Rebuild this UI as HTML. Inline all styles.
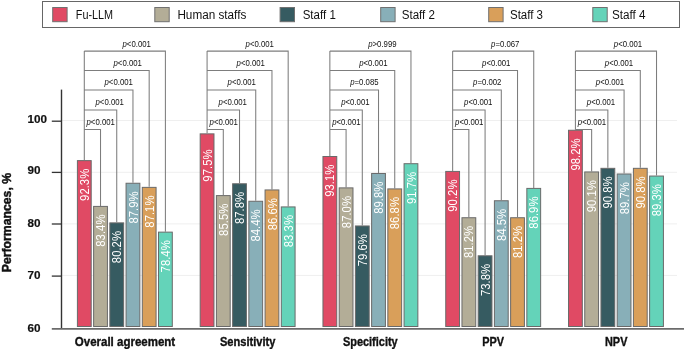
<!DOCTYPE html><html><head><meta charset="utf-8"><style>html,body{margin:0;padding:0;background:#fff;}svg{display:block;will-change:transform;}text{font-family:"Liberation Sans",sans-serif;}</style></head><body>
<svg width="685" height="349" viewBox="0 0 685 349">
<rect width="685" height="349" fill="#fff"/>
<rect x="42.5" y="1.5" width="637" height="26" fill="#fff" stroke="#666" stroke-width="1"/>
<rect x="52.7" y="7.5" width="14.4" height="14.2" fill="#E04A64" stroke="#707070" stroke-width="1"/>
<text x="75.8" y="18.9" font-size="12.3" fill="#111" textLength="37.3" lengthAdjust="spacingAndGlyphs">Fu-LLM</text>
<rect x="154.8" y="7.5" width="14.4" height="14.2" fill="#B3AD97" stroke="#707070" stroke-width="1"/>
<text x="177.4" y="18.9" font-size="12.3" fill="#111" textLength="68.9" lengthAdjust="spacingAndGlyphs">Human staffs</text>
<rect x="280.1" y="7.5" width="14.4" height="14.2" fill="#365B61" stroke="#707070" stroke-width="1"/>
<text x="302.7" y="18.9" font-size="12.3" fill="#111" textLength="33.1" lengthAdjust="spacingAndGlyphs">Staff 1</text>
<rect x="380.7" y="7.5" width="14.4" height="14.2" fill="#88AFB8" stroke="#707070" stroke-width="1"/>
<text x="401.7" y="18.9" font-size="12.3" fill="#111" textLength="33.3" lengthAdjust="spacingAndGlyphs">Staff 2</text>
<rect x="488.7" y="7.5" width="14.4" height="14.2" fill="#D99F5A" stroke="#707070" stroke-width="1"/>
<text x="510" y="18.9" font-size="12.3" fill="#111" textLength="33" lengthAdjust="spacingAndGlyphs">Staff 3</text>
<rect x="592.8" y="7.5" width="14.4" height="14.2" fill="#64D3B9" stroke="#707070" stroke-width="1"/>
<text x="612" y="18.9" font-size="12.3" fill="#111" textLength="33.6" lengthAdjust="spacingAndGlyphs">Staff 4</text>
<line x1="62" x2="677" y1="120.5" y2="120.5" stroke="#efefef" stroke-width="1"/>
<line x1="62" x2="677" y1="172.3" y2="172.3" stroke="#efefef" stroke-width="1"/>
<line x1="62" x2="677" y1="223.9" y2="223.9" stroke="#efefef" stroke-width="1"/>
<line x1="62" x2="677" y1="275.4" y2="275.4" stroke="#efefef" stroke-width="1"/>
<rect x="77.4" y="160.62" width="13.8" height="165.88" fill="#E04A64" stroke="#6a6a6a" stroke-width="1"/>
<rect x="93.62" y="206.41" width="13.8" height="120.09" fill="#B3AD97" stroke="#6a6a6a" stroke-width="1"/>
<rect x="109.84" y="222.87" width="13.8" height="103.63" fill="#365B61" stroke="#6a6a6a" stroke-width="1"/>
<rect x="126.06" y="183.25" width="13.8" height="143.25" fill="#88AFB8" stroke="#6a6a6a" stroke-width="1"/>
<rect x="142.28" y="187.37" width="13.8" height="139.13" fill="#D99F5A" stroke="#6a6a6a" stroke-width="1"/>
<rect x="158.5" y="232.13" width="13.8" height="94.37" fill="#64D3B9" stroke="#6a6a6a" stroke-width="1"/>
<rect x="200.18" y="133.86" width="13.8" height="192.64" fill="#E04A64" stroke="#6a6a6a" stroke-width="1"/>
<rect x="216.4" y="195.6" width="13.8" height="130.9" fill="#B3AD97" stroke="#6a6a6a" stroke-width="1"/>
<rect x="232.62" y="183.77" width="13.8" height="142.73" fill="#365B61" stroke="#6a6a6a" stroke-width="1"/>
<rect x="248.84" y="201.26" width="13.8" height="125.24" fill="#88AFB8" stroke="#6a6a6a" stroke-width="1"/>
<rect x="265.06" y="189.94" width="13.8" height="136.56" fill="#D99F5A" stroke="#6a6a6a" stroke-width="1"/>
<rect x="281.28" y="206.92" width="13.8" height="119.58" fill="#64D3B9" stroke="#6a6a6a" stroke-width="1"/>
<rect x="322.96" y="156.5" width="13.8" height="170" fill="#E04A64" stroke="#6a6a6a" stroke-width="1"/>
<rect x="339.18" y="187.88" width="13.8" height="138.62" fill="#B3AD97" stroke="#6a6a6a" stroke-width="1"/>
<rect x="355.4" y="225.96" width="13.8" height="100.54" fill="#365B61" stroke="#6a6a6a" stroke-width="1"/>
<rect x="371.62" y="173.48" width="13.8" height="153.02" fill="#88AFB8" stroke="#6a6a6a" stroke-width="1"/>
<rect x="387.84" y="188.91" width="13.8" height="137.59" fill="#D99F5A" stroke="#6a6a6a" stroke-width="1"/>
<rect x="404.06" y="163.7" width="13.8" height="162.8" fill="#64D3B9" stroke="#6a6a6a" stroke-width="1"/>
<rect x="445.74" y="171.42" width="13.8" height="155.08" fill="#E04A64" stroke="#6a6a6a" stroke-width="1"/>
<rect x="461.96" y="217.73" width="13.8" height="108.77" fill="#B3AD97" stroke="#6a6a6a" stroke-width="1"/>
<rect x="478.18" y="255.8" width="13.8" height="70.7" fill="#365B61" stroke="#6a6a6a" stroke-width="1"/>
<rect x="494.4" y="200.75" width="13.8" height="125.75" fill="#88AFB8" stroke="#6a6a6a" stroke-width="1"/>
<rect x="510.62" y="217.73" width="13.8" height="108.77" fill="#D99F5A" stroke="#6a6a6a" stroke-width="1"/>
<rect x="526.84" y="188.4" width="13.8" height="138.1" fill="#64D3B9" stroke="#6a6a6a" stroke-width="1"/>
<rect x="568.52" y="130.26" width="13.8" height="196.24" fill="#E04A64" stroke="#6a6a6a" stroke-width="1"/>
<rect x="584.74" y="171.94" width="13.8" height="154.56" fill="#B3AD97" stroke="#6a6a6a" stroke-width="1"/>
<rect x="600.96" y="168.33" width="13.8" height="158.17" fill="#365B61" stroke="#6a6a6a" stroke-width="1"/>
<rect x="617.18" y="173.99" width="13.8" height="152.51" fill="#88AFB8" stroke="#6a6a6a" stroke-width="1"/>
<rect x="633.4" y="168.33" width="13.8" height="158.17" fill="#D99F5A" stroke="#6a6a6a" stroke-width="1"/>
<rect x="649.62" y="176.05" width="13.8" height="150.45" fill="#64D3B9" stroke="#6a6a6a" stroke-width="1"/>
<path d="M84.3 160.12 V51.1 M84.3 129.5 H100.52 V205.91 M84.3 110 H116.74 V222.37 M84.3 90 H132.96 V182.75 M84.3 70.5 H149.18 V186.87 M84.3 51.1 H165.4 V231.63" fill="none" stroke="#7d7d7d" stroke-width="1.05"/>
<path d="M207.08 133.36 V51.1 M207.08 129.5 H223.3 V195.1 M207.08 110 H239.52 V183.27 M207.08 90 H255.74 V200.76 M207.08 70.5 H271.96 V189.44 M207.08 51.1 H288.18 V206.42" fill="none" stroke="#7d7d7d" stroke-width="1.05"/>
<path d="M329.86 156 V51.1 M329.86 129.5 H346.08 V187.38 M329.86 110 H362.3 V225.46 M329.86 90 H378.52 V172.98 M329.86 70.5 H394.74 V188.41 M329.86 51.1 H410.96 V163.2" fill="none" stroke="#7d7d7d" stroke-width="1.05"/>
<path d="M452.64 170.92 V51.1 M452.64 129.5 H468.86 V217.23 M452.64 110 H485.08 V255.3 M452.64 90 H501.3 V200.25 M452.64 70.5 H517.52 V217.23 M452.64 51.1 H533.74 V187.9" fill="none" stroke="#7d7d7d" stroke-width="1.05"/>
<path d="M575.42 129.76 V51.1 M575.42 129.5 H591.64 V171.44 M575.42 110 H607.86 V167.83 M575.42 90 H624.08 V173.49 M575.42 70.5 H640.3 V167.83 M575.42 51.1 H656.52 V175.55" fill="none" stroke="#7d7d7d" stroke-width="1.05"/>
<text x="100.7" y="124.9" font-size="8.2" text-anchor="middle" fill="#111" textLength="28.4" lengthAdjust="spacingAndGlyphs"><tspan font-style="italic">p</tspan>&lt;0.001</text>
<text x="109.7" y="105.4" font-size="8.2" text-anchor="middle" fill="#111" textLength="28.4" lengthAdjust="spacingAndGlyphs"><tspan font-style="italic">p</tspan>&lt;0.001</text>
<text x="118.7" y="85.4" font-size="8.2" text-anchor="middle" fill="#111" textLength="28.4" lengthAdjust="spacingAndGlyphs"><tspan font-style="italic">p</tspan>&lt;0.001</text>
<text x="127.7" y="65.9" font-size="8.2" text-anchor="middle" fill="#111" textLength="28.4" lengthAdjust="spacingAndGlyphs"><tspan font-style="italic">p</tspan>&lt;0.001</text>
<text x="136.7" y="46.5" font-size="8.2" text-anchor="middle" fill="#111" textLength="28.4" lengthAdjust="spacingAndGlyphs"><tspan font-style="italic">p</tspan>&lt;0.001</text>
<text x="223.78" y="124.9" font-size="8.2" text-anchor="middle" fill="#111" textLength="28.4" lengthAdjust="spacingAndGlyphs"><tspan font-style="italic">p</tspan>&lt;0.001</text>
<text x="232.78" y="105.4" font-size="8.2" text-anchor="middle" fill="#111" textLength="28.4" lengthAdjust="spacingAndGlyphs"><tspan font-style="italic">p</tspan>&lt;0.001</text>
<text x="241.78" y="85.4" font-size="8.2" text-anchor="middle" fill="#111" textLength="28.4" lengthAdjust="spacingAndGlyphs"><tspan font-style="italic">p</tspan>&lt;0.001</text>
<text x="250.78" y="65.9" font-size="8.2" text-anchor="middle" fill="#111" textLength="28.4" lengthAdjust="spacingAndGlyphs"><tspan font-style="italic">p</tspan>&lt;0.001</text>
<text x="259.78" y="46.5" font-size="8.2" text-anchor="middle" fill="#111" textLength="28.4" lengthAdjust="spacingAndGlyphs"><tspan font-style="italic">p</tspan>&lt;0.001</text>
<text x="346.36" y="124.9" font-size="8.2" text-anchor="middle" fill="#111" textLength="28.4" lengthAdjust="spacingAndGlyphs"><tspan font-style="italic">p</tspan>&lt;0.001</text>
<text x="355.36" y="105.4" font-size="8.2" text-anchor="middle" fill="#111" textLength="28.4" lengthAdjust="spacingAndGlyphs"><tspan font-style="italic">p</tspan>&lt;0.001</text>
<text x="364.36" y="85.4" font-size="8.2" text-anchor="middle" fill="#111" textLength="28.4" lengthAdjust="spacingAndGlyphs"><tspan font-style="italic">p</tspan>=0.085</text>
<text x="373.36" y="65.9" font-size="8.2" text-anchor="middle" fill="#111" textLength="28.4" lengthAdjust="spacingAndGlyphs"><tspan font-style="italic">p</tspan>&lt;0.001</text>
<text x="382.36" y="46.5" font-size="8.2" text-anchor="middle" fill="#111" textLength="28.4" lengthAdjust="spacingAndGlyphs"><tspan font-style="italic">p</tspan>&gt;0.999</text>
<text x="469.24" y="124.9" font-size="8.2" text-anchor="middle" fill="#111" textLength="28.4" lengthAdjust="spacingAndGlyphs"><tspan font-style="italic">p</tspan>&lt;0.001</text>
<text x="478.24" y="105.4" font-size="8.2" text-anchor="middle" fill="#111" textLength="28.4" lengthAdjust="spacingAndGlyphs"><tspan font-style="italic">p</tspan>&lt;0.001</text>
<text x="487.24" y="85.4" font-size="8.2" text-anchor="middle" fill="#111" textLength="28.4" lengthAdjust="spacingAndGlyphs"><tspan font-style="italic">p</tspan>=0.002</text>
<text x="496.24" y="65.9" font-size="8.2" text-anchor="middle" fill="#111" textLength="28.4" lengthAdjust="spacingAndGlyphs"><tspan font-style="italic">p</tspan>&lt;0.001</text>
<text x="505.24" y="46.5" font-size="8.2" text-anchor="middle" fill="#111" textLength="28.4" lengthAdjust="spacingAndGlyphs"><tspan font-style="italic">p</tspan>=0.067</text>
<text x="592.02" y="124.9" font-size="8.2" text-anchor="middle" fill="#111" textLength="28.4" lengthAdjust="spacingAndGlyphs"><tspan font-style="italic">p</tspan>&lt;0.001</text>
<text x="601.02" y="105.4" font-size="8.2" text-anchor="middle" fill="#111" textLength="28.4" lengthAdjust="spacingAndGlyphs"><tspan font-style="italic">p</tspan>&lt;0.001</text>
<text x="610.02" y="85.4" font-size="8.2" text-anchor="middle" fill="#111" textLength="28.4" lengthAdjust="spacingAndGlyphs"><tspan font-style="italic">p</tspan>&lt;0.001</text>
<text x="619.02" y="65.9" font-size="8.2" text-anchor="middle" fill="#111" textLength="28.4" lengthAdjust="spacingAndGlyphs"><tspan font-style="italic">p</tspan>&lt;0.001</text>
<text x="628.02" y="46.5" font-size="8.2" text-anchor="middle" fill="#111" textLength="28.4" lengthAdjust="spacingAndGlyphs"><tspan font-style="italic">p</tspan>&lt;0.001</text>
<text transform="translate(88.9 168.72) rotate(-90)" x="0" y="0" font-size="12.3" text-anchor="end" fill="#fff" textLength="32.2" lengthAdjust="spacingAndGlyphs">92.3%</text>
<text transform="translate(105.12 214.51) rotate(-90)" x="0" y="0" font-size="12.3" text-anchor="end" fill="#fff" textLength="32.2" lengthAdjust="spacingAndGlyphs">83.4%</text>
<text transform="translate(121.34 230.97) rotate(-90)" x="0" y="0" font-size="12.3" text-anchor="end" fill="#fff" textLength="32.2" lengthAdjust="spacingAndGlyphs">80.2%</text>
<text transform="translate(137.56 191.35) rotate(-90)" x="0" y="0" font-size="12.3" text-anchor="end" fill="#fff" textLength="32.2" lengthAdjust="spacingAndGlyphs">87.9%</text>
<text transform="translate(153.78 195.47) rotate(-90)" x="0" y="0" font-size="12.3" text-anchor="end" fill="#fff" textLength="32.2" lengthAdjust="spacingAndGlyphs">87.1%</text>
<text transform="translate(170 240.23) rotate(-90)" x="0" y="0" font-size="12.3" text-anchor="end" fill="#fff" textLength="32.2" lengthAdjust="spacingAndGlyphs">78.4%</text>
<text transform="translate(211.68 149.46) rotate(-90)" x="0" y="0" font-size="12.3" text-anchor="end" fill="#fff" textLength="32.2" lengthAdjust="spacingAndGlyphs">97.5%</text>
<text transform="translate(227.9 203.7) rotate(-90)" x="0" y="0" font-size="12.3" text-anchor="end" fill="#fff" textLength="32.2" lengthAdjust="spacingAndGlyphs">85.5%</text>
<text transform="translate(244.12 191.87) rotate(-90)" x="0" y="0" font-size="12.3" text-anchor="end" fill="#fff" textLength="32.2" lengthAdjust="spacingAndGlyphs">87.8%</text>
<text transform="translate(260.34 209.36) rotate(-90)" x="0" y="0" font-size="12.3" text-anchor="end" fill="#fff" textLength="32.2" lengthAdjust="spacingAndGlyphs">84.4%</text>
<text transform="translate(276.56 198.04) rotate(-90)" x="0" y="0" font-size="12.3" text-anchor="end" fill="#fff" textLength="32.2" lengthAdjust="spacingAndGlyphs">86.6%</text>
<text transform="translate(292.78 215.02) rotate(-90)" x="0" y="0" font-size="12.3" text-anchor="end" fill="#fff" textLength="32.2" lengthAdjust="spacingAndGlyphs">83.3%</text>
<text transform="translate(334.46 164.6) rotate(-90)" x="0" y="0" font-size="12.3" text-anchor="end" fill="#fff" textLength="32.2" lengthAdjust="spacingAndGlyphs">93.1%</text>
<text transform="translate(350.68 195.98) rotate(-90)" x="0" y="0" font-size="12.3" text-anchor="end" fill="#fff" textLength="32.2" lengthAdjust="spacingAndGlyphs">87.0%</text>
<text transform="translate(366.9 234.06) rotate(-90)" x="0" y="0" font-size="12.3" text-anchor="end" fill="#fff" textLength="32.2" lengthAdjust="spacingAndGlyphs">79.6%</text>
<text transform="translate(383.12 181.58) rotate(-90)" x="0" y="0" font-size="12.3" text-anchor="end" fill="#fff" textLength="32.2" lengthAdjust="spacingAndGlyphs">89.8%</text>
<text transform="translate(399.34 197.01) rotate(-90)" x="0" y="0" font-size="12.3" text-anchor="end" fill="#fff" textLength="32.2" lengthAdjust="spacingAndGlyphs">86.8%</text>
<text transform="translate(415.56 171.8) rotate(-90)" x="0" y="0" font-size="12.3" text-anchor="end" fill="#fff" textLength="32.2" lengthAdjust="spacingAndGlyphs">91.7%</text>
<text transform="translate(457.24 179.52) rotate(-90)" x="0" y="0" font-size="12.3" text-anchor="end" fill="#fff" textLength="32.2" lengthAdjust="spacingAndGlyphs">90.2%</text>
<text transform="translate(473.46 225.83) rotate(-90)" x="0" y="0" font-size="12.3" text-anchor="end" fill="#fff" textLength="32.2" lengthAdjust="spacingAndGlyphs">81.2%</text>
<text transform="translate(489.68 263.9) rotate(-90)" x="0" y="0" font-size="12.3" text-anchor="end" fill="#fff" textLength="32.2" lengthAdjust="spacingAndGlyphs">73.8%</text>
<text transform="translate(505.9 208.85) rotate(-90)" x="0" y="0" font-size="12.3" text-anchor="end" fill="#fff" textLength="32.2" lengthAdjust="spacingAndGlyphs">84.5%</text>
<text transform="translate(522.12 225.83) rotate(-90)" x="0" y="0" font-size="12.3" text-anchor="end" fill="#fff" textLength="32.2" lengthAdjust="spacingAndGlyphs">81.2%</text>
<text transform="translate(538.34 196.5) rotate(-90)" x="0" y="0" font-size="12.3" text-anchor="end" fill="#fff" textLength="32.2" lengthAdjust="spacingAndGlyphs">86.9%</text>
<text transform="translate(580.02 138.36) rotate(-90)" x="0" y="0" font-size="12.3" text-anchor="end" fill="#fff" textLength="32.2" lengthAdjust="spacingAndGlyphs">98.2%</text>
<text transform="translate(596.24 180.04) rotate(-90)" x="0" y="0" font-size="12.3" text-anchor="end" fill="#fff" textLength="32.2" lengthAdjust="spacingAndGlyphs">90.1%</text>
<text transform="translate(612.46 176.43) rotate(-90)" x="0" y="0" font-size="12.3" text-anchor="end" fill="#fff" textLength="32.2" lengthAdjust="spacingAndGlyphs">90.8%</text>
<text transform="translate(628.68 182.09) rotate(-90)" x="0" y="0" font-size="12.3" text-anchor="end" fill="#fff" textLength="32.2" lengthAdjust="spacingAndGlyphs">89.7%</text>
<text transform="translate(644.9 176.43) rotate(-90)" x="0" y="0" font-size="12.3" text-anchor="end" fill="#fff" textLength="32.2" lengthAdjust="spacingAndGlyphs">90.8%</text>
<text transform="translate(661.12 184.15) rotate(-90)" x="0" y="0" font-size="12.3" text-anchor="end" fill="#fff" textLength="32.2" lengthAdjust="spacingAndGlyphs">89.3%</text>
<line x1="61.5" x2="61.5" y1="89.6" y2="329" stroke="#333" stroke-width="1.4"/>
<line x1="51.8" x2="684" y1="328.9" y2="328.9" stroke="#6b6b6b" stroke-width="1.6"/>
<line x1="51.8" x2="61.5" y1="121.2" y2="121.2" stroke="#333" stroke-width="1.3"/>
<line x1="51.8" x2="61.5" y1="172.4" y2="172.4" stroke="#333" stroke-width="1.3"/>
<line x1="51.8" x2="61.5" y1="224" y2="224" stroke="#333" stroke-width="1.3"/>
<line x1="51.8" x2="61.5" y1="276.1" y2="276.1" stroke="#333" stroke-width="1.3"/>
<text x="27.6" y="123.4" font-size="11.7" font-weight="bold" fill="#111" stroke="#111" stroke-width="0.2">100</text>
<text x="27.6" y="173.9" font-size="11.7" font-weight="bold" fill="#111" stroke="#111" stroke-width="0.2">90</text>
<text x="27.6" y="226.6" font-size="11.7" font-weight="bold" fill="#111" stroke="#111" stroke-width="0.2">80</text>
<text x="27.6" y="279.4" font-size="11.7" font-weight="bold" fill="#111" stroke="#111" stroke-width="0.2">70</text>
<text x="27.6" y="332.1" font-size="11.7" font-weight="bold" fill="#111" stroke="#111" stroke-width="0.2">60</text>
<text transform="translate(10.8 222.6) rotate(-90)" x="0" y="0" font-size="12.6" font-weight="bold" text-anchor="middle" fill="#111" stroke="#111" stroke-width="0.45" textLength="99.4" lengthAdjust="spacingAndGlyphs">Performances, %</text>
<text x="125" y="346.4" font-size="11.9" font-weight="bold" text-anchor="middle" fill="#111" stroke="#111" stroke-width="0.35" textLength="100.4" lengthAdjust="spacingAndGlyphs">Overall agreement</text>
<text x="247.65" y="346.4" font-size="11.9" font-weight="bold" text-anchor="middle" fill="#111" stroke="#111" stroke-width="0.35" textLength="55.5" lengthAdjust="spacingAndGlyphs">Sensitivity</text>
<text x="370.3" y="346.4" font-size="11.9" font-weight="bold" text-anchor="middle" fill="#111" stroke="#111" stroke-width="0.35" textLength="54.8" lengthAdjust="spacingAndGlyphs">Specificity</text>
<text x="493.2" y="346.4" font-size="11.9" font-weight="bold" text-anchor="middle" fill="#111" stroke="#111" stroke-width="0.35" textLength="21.8" lengthAdjust="spacingAndGlyphs">PPV</text>
<text x="616.2" y="346.4" font-size="11.9" font-weight="bold" text-anchor="middle" fill="#111" stroke="#111" stroke-width="0.35" textLength="22.4" lengthAdjust="spacingAndGlyphs">NPV</text>
</svg></body></html>
